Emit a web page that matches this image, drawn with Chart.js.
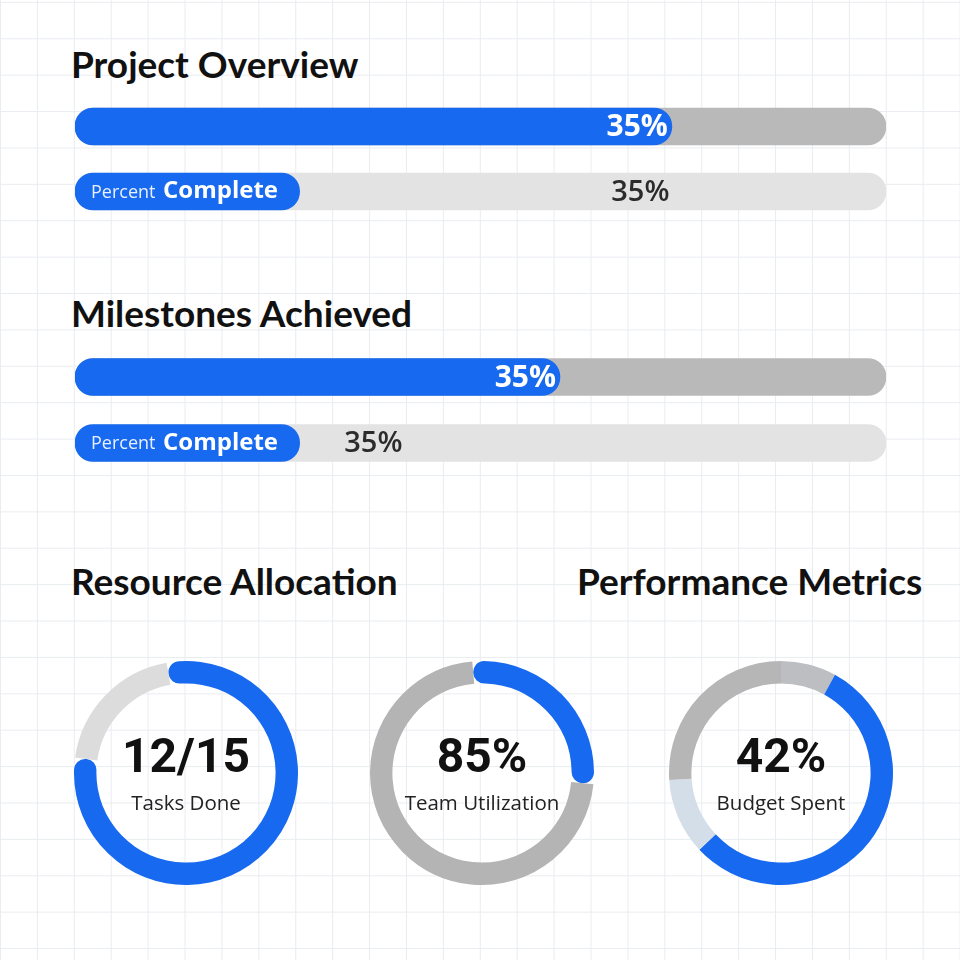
<!DOCTYPE html>
<html>
<head>
<meta charset="utf-8">
<title>Project Dashboard</title>
<script src="https://cdn.jsdelivr.net/npm/chart.js@4.4.1/dist/chart.umd.min.js"></script>
<style>
  body { margin: 0; }
  #page {
    position: relative;
    width: 960px;
    height: 960px;
    overflow: hidden;
    background-color: #fff;
    background-image:
      linear-gradient(to right, #e9ecf0 1.3px, transparent 1.3px),
      linear-gradient(to bottom, #e9ecf0 1.3px, transparent 1.3px);
    background-size: 36.92px 36.4px;
    background-position: 0 1.9px;
  }
  .title {
    position: absolute;
    font-family: Lato, sans-serif;
    font-weight: 700;
    font-size: 37px;
    line-height: 44px;
    color: #111;
    white-space: nowrap;
  }
  canvas { position: absolute; }
</style>
</head>
<body>
<div id="page">
  <div class="title" style="left:71px; top:42px;">Project Overview</div>
  <div class="title" style="left:71px; top:291px;">Milestones Achieved</div>
  <div class="title" style="left:71px; top:559px;">Resource Allocation</div>
  <div class="title" style="left:577px; top:559px;">Performance Metrics</div>

  <canvas id="overview" width="811" height="130" style="left:75px; top:94px;"></canvas>
  <canvas id="milestones" width="811" height="132" style="left:75px; top:344px;"></canvas>

  <canvas id="tasks" width="224" height="224" style="left:74px; top:661px;"></canvas>
  <canvas id="team" width="224" height="224" style="left:370px; top:661px;"></canvas>
  <canvas id="budget" width="224" height="224" style="left:669px; top:661px;"></canvas>
</div>

<script>
// Datos
const barRows = ['Progress', 'Percent Complete'];
const overviewFill = [73.6, 27.7];
const milestonesFill = [59.8, 27.7];
const trackFull = [100, 100];
const overviewText = ['35%', '35%'];
const milestonesText = ['35%', '35%'];

const tasksLabels = ['Done', 'Open'];
const tasksValues = [12, 3];
const teamLabels = ['Utilized', 'Free'];
const teamValues = [28, 72];
const budgetLabels = ['Reserved', 'Spent', 'Committed', 'Remaining'];
const budgetValues = [8, 55, 11, 26];

const BLUE = '#1769ef';

// texto sobre las barras
const barText = {
  id: 'barText',
  afterDatasetsDraw(chart, args, opts) {
    const ctx = chart.ctx;
    const meta = chart.getDatasetMeta(0);
    const x = chart.scales.x;
    ctx.save();
    ctx.textBaseline = 'middle';
    // fila 0: valor blanco al final de la barra azul
    const b0 = meta.data[0];
    ctx.fillStyle = '#fff';
    ctx.font = '700 30px "Open Sans"';
    ctx.textAlign = 'right';
    ctx.fillText(opts.text[0], b0.x - 4, b0.y + 1);
    // fila 1: pastilla azul con texto
    const b1 = meta.data[1];
    ctx.textAlign = 'left';
    ctx.font = '400 18px "Open Sans"';
    ctx.fillStyle = '#e8f0ff';
    ctx.fillText('Percent', 16, b1.y + 1);
    ctx.fillStyle = '#fff';
    ctx.font = '700 24px "Open Sans"';
    ctx.fillText('Complete', 88, b1.y);
    // valor gris oscuro
    ctx.fillStyle = '#2b2b2b';
    ctx.font = '600 29px "Open Sans"';
    ctx.textAlign = opts.align;
    ctx.fillText(opts.text[1], x.getPixelForValue(opts.at), b1.y + 1);
    ctx.restore();
  }
};

function progress(id, fill, text, at, align) {
  new Chart(document.getElementById(id), {
    type: 'bar',
    data: {
      labels: barRows,
      datasets: [{
        data: fill,
        backgroundColor: [BLUE, BLUE],
        borderRadius: 19,
        borderSkipped: false,
        barThickness: 37,
        grouped: false
      }, {
        data: trackFull,
        backgroundColor: ['#b9b9b9', '#e3e3e3'],
        borderRadius: 19,
        borderSkipped: false,
        barThickness: 37,
        grouped: false
      }]
    },
    options: {
      indexAxis: 'y',
      responsive: false,
      animation: false,
      events: [],
      layout: { padding: 0 },
      scales: {
        x: { display: false, min: 0, max: 100 },
        y: { display: false }
      },
      plugins: {
        legend: { display: false },
        tooltip: { enabled: false },
        barText: { text: text, at: at, align: align }
      }
    },
    plugins: [barText]
  });
}

progress('overview', overviewFill, overviewText, 73.3, 'right');
progress('milestones', milestonesFill, milestonesText, 33.2, 'left');

// texto central de las donas
const centerText = {
  id: 'centerText',
  afterDraw(chart, args, opts) {
    const ctx = chart.ctx;
    const a = chart.chartArea;
    const cx = (a.left + a.right) / 2;
    const cy = (a.top + a.bottom) / 2;
    ctx.save();
    ctx.textAlign = 'center';
    ctx.textBaseline = 'middle';
    ctx.fillStyle = '#111';
    ctx.font = '700 48px Roboto';
    ctx.fillText(opts.value, cx, cy - 13);
    ctx.fillStyle = '#222';
    ctx.font = '400 20.5px "Open Sans"';
    ctx.fillText(opts.caption, cx, cy + 31);
    ctx.restore();
  }
};

function donut(id, labels, values, colors, rotation, value, caption, radius) {
  new Chart(document.getElementById(id), {
    type: 'doughnut',
    data: {
      labels: labels,
      datasets: [{
        data: values,
        backgroundColor: colors,
        borderWidth: 0,
        borderRadius: radius
      }]
    },
    options: {
      responsive: false,
      animation: false,
      events: [],
      cutout: '80%',
      rotation: rotation,
      layout: { padding: 0 },
      plugins: {
        legend: { display: false },
        tooltip: { enabled: false },
        centerText: { value: value, caption: caption }
      }
    },
    plugins: [centerText]
  });
}

donut('tasks', tasksLabels, tasksValues, [BLUE, '#dcdcdc'], -10, '12/15', 'Tasks Done', [11, 0]);
donut('team', teamLabels, teamValues, [BLUE, '#b4b4b4'], -5, '85%', 'Team Utilization', [11, 0]);
donut('budget', budgetLabels, budgetValues, ['#bcbec2', BLUE, '#d4dee9', '#b6b6b6'], 0, '42%', 'Budget Spent', 0);
</script>
</body>
</html>
